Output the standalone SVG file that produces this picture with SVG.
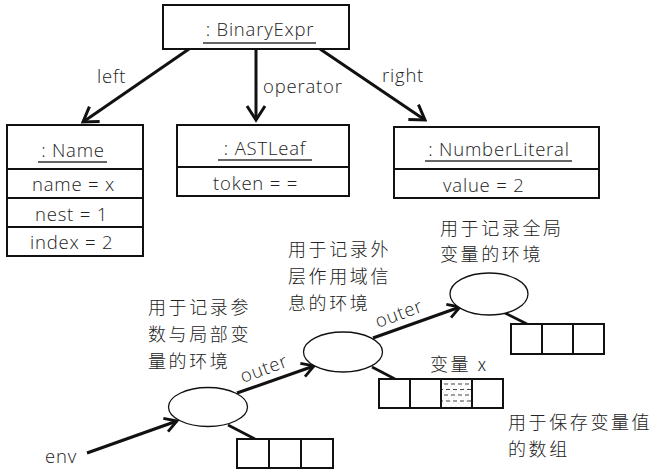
<svg xmlns="http://www.w3.org/2000/svg" width="656" height="469" viewBox="0 0 656 469">
  <defs>
    <style>
      .lat { font-family: "Open Sans", "Liberation Sans", Arial, sans-serif; font-weight: 300; font-size: 18.5px; letter-spacing: 0.8px; fill: #222; }
      .cjk { font-family: "Noto Sans CJK SC", "Noto Sans", sans-serif; font-weight: 300; font-size: 18px; letter-spacing: 2.6px; fill: #222; }
      .mid { text-anchor: middle; }
      .box { fill: #fff; stroke: #111; stroke-width: 2; }
      .ul { stroke: #333; stroke-width: 1.3; }
      .cell { fill: #fff; stroke: #111; stroke-width: 2; }
      .env { fill: #fff; stroke: #111; stroke-width: 1.3; }
      .arrow { fill: none; stroke: #111; stroke-width: 3; marker-end: url(#head); }
      .arrow-s { fill: none; stroke: #111; stroke-width: 3; marker-end: url(#head-s); }
      .link { stroke: #111; stroke-width: 2.6; }
      .dash { stroke: #444; stroke-width: 1.1; stroke-dasharray: 4 3; }
    </style>
    <marker id="head" markerUnits="userSpaceOnUse" markerWidth="24" markerHeight="24" refX="16" refY="10" orient="auto" overflow="visible">
      <path d="M2,1 L16,10 L2,19" fill="none" stroke="#111" stroke-width="3"/>
    </marker>
    <marker id="head-s" markerUnits="userSpaceOnUse" markerWidth="20" markerHeight="20" refX="13" refY="8" orient="auto" overflow="visible">
      <path d="M1,1 L13,8 L1,15" fill="none" stroke="#111" stroke-width="2.8"/>
    </marker>
    <pattern id="stipple" width="5" height="5" patternUnits="userSpaceOnUse">
      <circle cx="1" cy="1" r="0.45" fill="#aaa"/>
      <circle cx="3.5" cy="3.5" r="0.45" fill="#ccc"/>
    </pattern>
  </defs>

  <!-- connectors -->
  <g id="connectors">
    <line class="arrow" x1="189" y1="49" x2="83" y2="122"/>
    <line class="arrow" x1="256" y1="49" x2="256" y2="120"/>
    <line class="arrow" x1="320" y1="49" x2="425" y2="120"/>
    <line class="arrow-s" x1="87" y1="453" x2="177" y2="421"/>
    <line class="arrow-s" x1="237" y1="393" x2="314" y2="366"/>
    <line class="arrow-s" x1="373" y1="338" x2="460" y2="307"/>
    <line class="link" x1="228" y1="425" x2="255" y2="439"/>
    <line class="link" x1="372" y1="367" x2="395" y2="379"/>
    <line class="link" x1="503" y1="312" x2="527" y2="324"/>
    <text class="lat" x="97" y="83">left</text>
    <text class="lat" x="263" y="93">operator</text>
    <text class="lat" x="382" y="82">right</text>
    <text class="lat" x="45" y="463">env</text>
    <text class="lat" transform="translate(243,383) rotate(-20)">outer</text>
    <text class="lat" transform="translate(378,328) rotate(-20)">outer</text>
  </g>

  <!-- object: BinaryExpr -->
  <g id="binary-expr">
    <rect class="box" x="163" y="5" width="186" height="44"/>
    <text class="lat mid" x="260" y="36">: BinaryExpr</text>
    <line class="ul" x1="203" y1="43" x2="316" y2="43"/>
  </g>

  <!-- object: Name -->
  <g id="name">
    <rect class="box" x="7" y="125" width="136" height="131"/>
    <line class="box" x1="7" y1="169" x2="143" y2="169"/>
    <line class="box" x1="7" y1="198" x2="143" y2="198"/>
    <line class="box" x1="7" y1="227" x2="143" y2="227"/>
    <text class="lat mid" x="73" y="157">: Name</text>
    <line class="ul" x1="38" y1="162" x2="107" y2="162"/>
    <text class="lat" x="32" y="191">name = x</text>
    <text class="lat" x="35" y="221">nest = 1</text>
    <text class="lat" x="30" y="249">index = 2</text>
  </g>

  <!-- object: ASTLeaf -->
  <g id="ast-leaf">
    <rect class="box" x="177" y="125" width="172" height="71"/>
    <line class="box" x1="177" y1="167" x2="349" y2="167"/>
    <text class="lat mid" x="265" y="155">: ASTLeaf</text>
    <line class="ul" x1="218" y1="160" x2="312" y2="160"/>
    <text class="lat" x="213" y="190">token = =</text>
  </g>

  <!-- object: NumberLiteral -->
  <g id="number-literal">
    <rect class="box" x="394" y="127" width="205" height="71"/>
    <line class="box" x1="394" y1="169" x2="599" y2="169"/>
    <text class="lat mid" x="499" y="156">: NumberLiteral</text>
    <line class="ul" x1="425" y1="161" x2="572" y2="161"/>
    <text class="lat" x="443" y="192">value = 2</text>
  </g>

  <!-- local environment -->
  <g id="env-local">
    <ellipse class="env" cx="208" cy="407" rx="39.5" ry="19.5"/>
    <rect class="cell" x="237" y="439" width="32" height="29"/>
    <rect class="cell" x="269" y="439" width="32" height="29"/>
    <rect class="cell" x="301" y="439" width="32" height="29"/>
    <text class="cjk" x="148" y="314">用于记录参</text>
    <text class="cjk" x="148" y="341">数与局部变</text>
    <text class="cjk" x="148" y="368">量的环境</text>
  </g>

  <!-- outer scope environment -->
  <g id="env-outer">
    <ellipse class="env" cx="343" cy="352" rx="39.5" ry="20"/>
    <rect class="cell" x="379" y="379" width="31" height="29"/>
    <rect class="cell" x="410" y="379" width="31" height="29"/>
    <rect class="cell" x="441" y="379" width="31" height="29" style="fill:url(#stipple)"/>
    <rect class="cell" x="472" y="379" width="31" height="29"/>
    <line class="dash" x1="444" y1="384" x2="471" y2="384"/>
    <line class="dash" x1="442" y1="389.5" x2="471" y2="389.5" stroke-dashoffset="3"/>
    <line class="dash" x1="444" y1="395" x2="471" y2="395"/>
    <line class="dash" x1="442" y1="401" x2="471" y2="401" stroke-dashoffset="3"/>
    <text class="cjk" x="288" y="256">用于记录外</text>
    <text class="cjk" x="288" y="283">层作用域信</text>
    <text class="cjk" x="288" y="310">息的环境</text>
    <text class="cjk" x="430" y="371">变量 x</text>
    <text class="cjk" x="508" y="429">用于保存变量值</text>
    <text class="cjk" x="508" y="456">的数组</text>
  </g>

  <!-- global environment -->
  <g id="env-global">
    <ellipse class="env" cx="489" cy="294" rx="39" ry="21"/>
    <rect class="cell" x="511" y="324" width="31" height="30"/>
    <rect class="cell" x="542" y="324" width="31" height="30"/>
    <rect class="cell" x="573" y="324" width="31" height="30"/>
    <text class="cjk" x="440" y="235">用于记录全局</text>
    <text class="cjk" x="440" y="261">变量的环境</text>
  </g>
</svg>
